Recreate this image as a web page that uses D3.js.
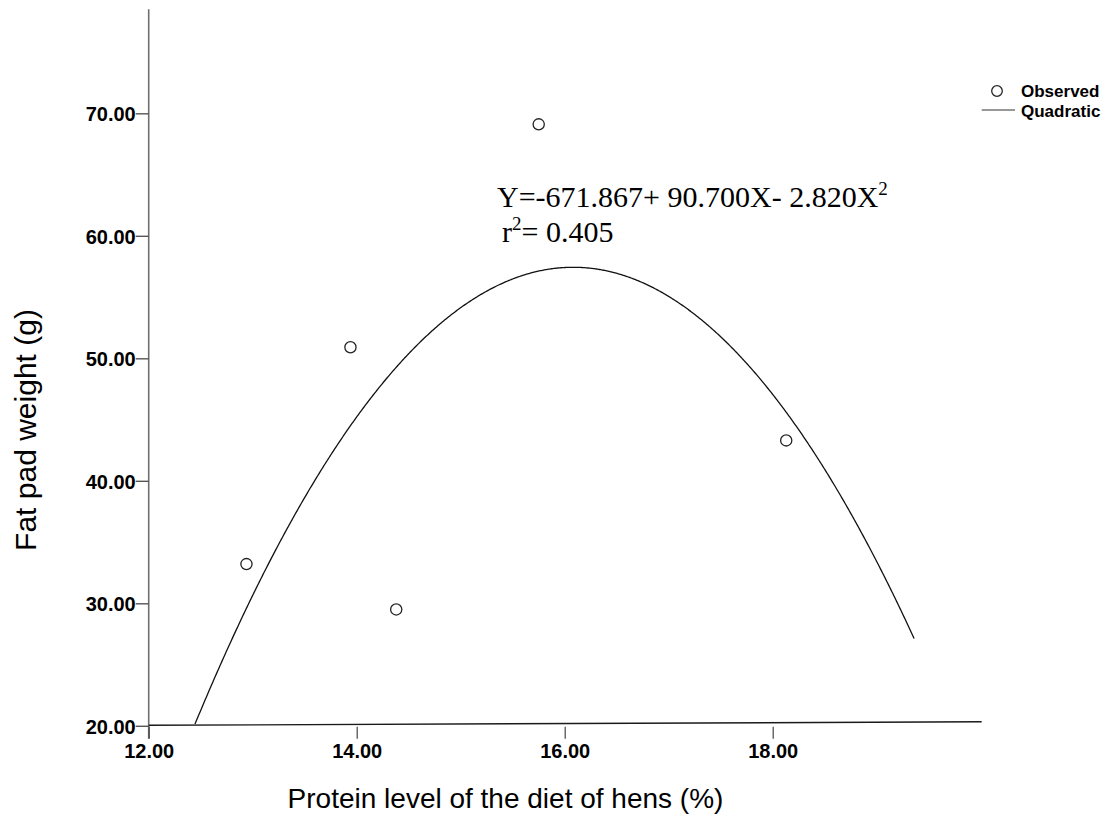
<!DOCTYPE html>
<html>
<head>
<meta charset="utf-8">
<script src="https://cdn.jsdelivr.net/npm/d3@7"></script>
<style>
  html, body { margin: 0; padding: 0; background: #fff; }
  svg { display: block; }
  .tick text { font-family: "Liberation Sans", Arial, sans-serif; font-weight: bold; font-size: 20px; fill: #000; }
</style>
</head>
<body>
<svg id="chart" width="1114" height="819"></svg>
<script>
// Observed means: dietary protein level (%) and fat pad weight (g)
const proteinLevel = [12.94, 13.94, 14.38, 15.75, 18.13];
const fatPadWeight = [33.2, 50.9, 29.5, 69.1, 43.3];

// Quadratic fit Y = b0 + b1*X + b2*X^2 and the X span it is drawn over
const quadCoef = [-671.867, 90.700, -2.820];
const fitRange = [12.445, 19.36];
const rSquared = 0.405;

// Axis ticks
const xTicks = [12, 14, 16, 18];
const yTicks = [20, 30, 40, 50, 60, 70];
const xDomain = [12, 20];
const yDomain = [20, 78.5];

const svg = d3.select("#chart");

const x = d3.scaleLinear().domain(xDomain).range([148.7, 980.7]);
const y = d3.scaleLinear().domain(yDomain).range([725.8, 9.2]);
const fmt = d3.format(".2f");

// Y axis (vertical line runs a little below the baseline)
svg.append("line")
  .attr("x1", x(xDomain[0])).attr("x2", x(xDomain[0]))
  .attr("y1", y(yDomain[1])).attr("y2", y(yDomain[0]) + 13)
  .attr("stroke", "#6f6f6f").attr("stroke-width", 1.6);

const yAxis = svg.append("g")
  .attr("transform", `translate(${x(xDomain[0])},0)`)
  .call(d3.axisLeft(y).tickValues(yTicks).tickFormat(fmt).tickSize(13).tickPadding(0));
yAxis.select(".domain").remove();
yAxis.selectAll(".tick line").attr("stroke", "#555").attr("stroke-width", 1.4);
yAxis.selectAll(".tick text").attr("dy", "0.37em");

// X axis baseline (slightly inclined toward its right end)
svg.append("line")
  .attr("x1", x(xDomain[0])).attr("x2", x(xDomain[1]) + 1)
  .attr("y1", y(yDomain[0]) - 0.5).attr("y2", y(yDomain[0]) - 4)
  .attr("stroke", "#1a1a1a").attr("stroke-width", 1.4);

const xAxis = svg.append("g")
  .attr("transform", `translate(0,${y(yDomain[0]) + 1})`)
  .call(d3.axisBottom(x).tickValues(xTicks).tickFormat(fmt).tickSize(12).tickPadding(5));
xAxis.select(".domain").remove();
xAxis.selectAll(".tick line").attr("stroke", "#444").attr("stroke-width", 1.2);

// Fitted quadratic curve
const quad = v => quadCoef[0] + quadCoef[1] * v + quadCoef[2] * v * v;
const fitX = d3.range(fitRange[0], fitRange[1], 0.01).concat([fitRange[1]]);
svg.append("path")
  .datum(fitX)
  .attr("fill", "none")
  .attr("stroke", "#111")
  .attr("stroke-width", 1.3)
  .attr("d", d3.line().x(d => x(d)).y(d => y(quad(d))));

// Observed points
svg.append("g").selectAll("circle")
  .data(proteinLevel.map((p, i) => [p, fatPadWeight[i]]))
  .join("circle")
  .attr("cx", d => x(d[0]))
  .attr("cy", d => y(d[1]))
  .attr("r", 5.6)
  .attr("fill", "#fff")
  .attr("stroke", "#222")
  .attr("stroke-width", 1.3);

// Regression equation
const serif = '"Liberation Serif", "Times New Roman", serif';
const eq = svg.append("text")
  .attr("x", 497).attr("y", 207)
  .attr("font-family", serif).attr("font-size", 30).attr("fill", "#000");
eq.append("tspan").text(`Y=${quadCoef[0].toFixed(3)}+ ${quadCoef[1].toFixed(3)}X- ${Math.abs(quadCoef[2]).toFixed(3)}X`);
eq.append("tspan").attr("font-size", 19).attr("dy", -12).text("2");

const r2 = svg.append("text")
  .attr("x", 502).attr("y", 242)
  .attr("font-family", serif).attr("font-size", 30).attr("fill", "#000");
r2.append("tspan").text("r");
r2.append("tspan").attr("font-size", 19).attr("dy", -12).text("2");
r2.append("tspan").attr("dy", 12).text(`= ${rSquared.toFixed(3)}`);

// Axis titles
const sans = '"Liberation Sans", Arial, sans-serif';
svg.append("text")
  .attr("x", 505.5).attr("y", 808)
  .attr("text-anchor", "middle")
  .attr("font-family", sans).attr("font-size", 28).attr("fill", "#000")
  .text("Protein level of the diet of hens (%)");

svg.append("text")
  .attr("transform", "translate(36,430) rotate(-90)")
  .attr("text-anchor", "middle")
  .attr("font-family", sans).attr("font-size", 30).attr("fill", "#000")
  .text("Fat pad weight (g)");

// Legend
const legend = svg.append("g");
legend.append("circle")
  .attr("cx", 997).attr("cy", 91).attr("r", 5.3)
  .attr("fill", "#fff").attr("stroke", "#222").attr("stroke-width", 1.3);
legend.append("text")
  .attr("x", 1021).attr("y", 97)
  .attr("font-family", sans).attr("font-weight", "bold").attr("font-size", 17).attr("fill", "#000")
  .text("Observed");
legend.append("line")
  .attr("x1", 981.7).attr("x2", 1015).attr("y1", 110).attr("y2", 110)
  .attr("stroke", "#333").attr("stroke-width", 1.2);
legend.append("text")
  .attr("x", 1021).attr("y", 116.5)
  .attr("font-family", sans).attr("font-weight", "bold").attr("font-size", 17).attr("fill", "#000")
  .text("Quadratic");
</script>
</body>
</html>
